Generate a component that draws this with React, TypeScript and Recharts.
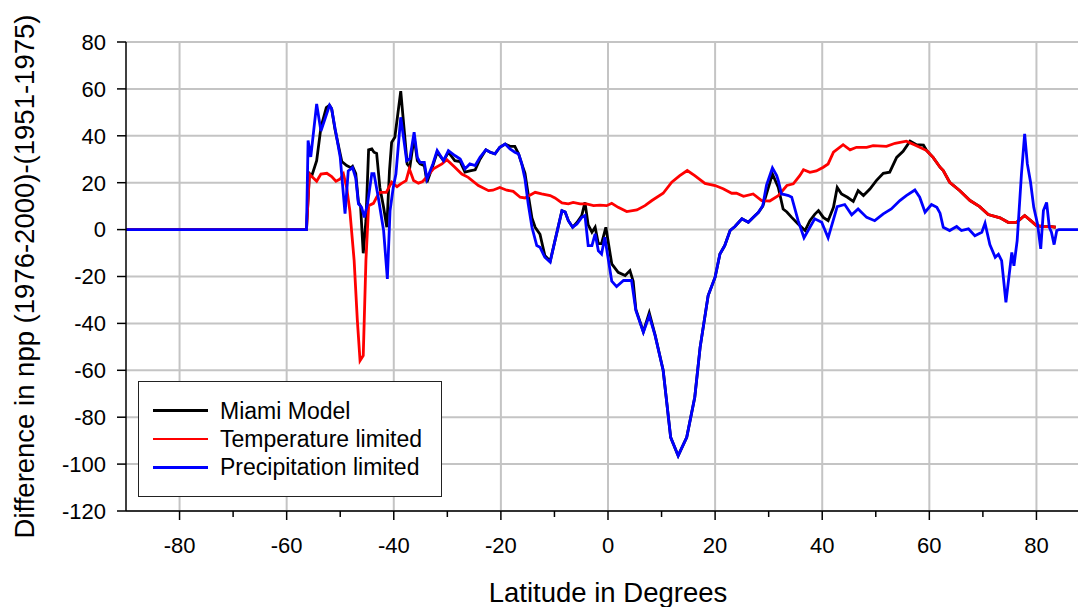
import React from "react";
import { LineChart, Line, XAxis, YAxis, CartesianGrid, Legend } from "recharts";

// [latitude, difference in npp]
const miamiModel: [number, number][] = [
  [-90, 0], [-56.3, 0], [-55.75, 24], [-55.3, 23], [-54.4, 29.4], [-53.6, 43.6], [-52.6, 52], [-52.0, 53],
  [-51.6, 51.5], [-51.0, 43], [-49.7, 29], [-48.8, 27.3], [-48.0, 26.4], [-47.7, 27], [-47.1, 23.9], [-46.6, 11.6],
  [-46.2, 10], [-45.7, -10.1], [-45.2, 3.8], [-44.7, 34], [-44.1, 34.4], [-43.7, 33], [-43.2, 32.5], [-42.6, 18],
  [-41.9, 9.5], [-41.3, 1], [-40.8, 25.2], [-40.4, 37.2], [-39.8, 39.4], [-38.7, 59], [-38.1, 43.6], [-37.5, 28],
  [-37.0, 26.6], [-36.2, 39.4], [-35.6, 29.4], [-35.1, 28], [-34.3, 27.3], [-33.8, 20.2], [-32.7, 27.3], [-31.9, 33],
  [-30.7, 29.4], [-29.8, 33], [-28.6, 29.4], [-27.6, 29], [-26.7, 24.5], [-25.8, 25], [-24.8, 25.5], [-23.9, 30],
  [-22.8, 34], [-22.0, 33], [-21.1, 32.3], [-20.2, 35.1], [-19.2, 36.5], [-18.3, 35.5], [-17.4, 35.5], [-16.7, 32.3],
  [-16.1, 28], [-15.5, 24], [-14.9, 15], [-14.2, 5], [-13.6, 1], [-12.7, -2], [-11.8, -11], [-10.8, -13.5],
  [-9.9, -4.7], [-8.6, 8.1], [-8.0, 7.5], [-7.4, 3.8], [-6.6, 1], [-5.8, 3], [-4.9, 6], [-4.3, 11.6],
  [-3.7, 2], [-3.0, -1.1], [-2.4, 1], [-1.8, -6], [-1.2, -6], [-0.4, 1], [0.7, -14.6], [1.9, -18.2],
  [3.2, -19.6], [4.1, -17.5], [4.7, -22], [5.2, -34], [6.6, -43.5], [7.7, -35.5], [8.8, -45], [10.3, -60],
  [11.7, -88.6], [13.1, -96.4], [14.7, -88.6], [16.2, -71.5], [17.2, -50.2], [18.7, -28.1], [20.0, -20.3], [20.9, -10.4],
  [21.8, -6.8], [22.8, -0.4], [23.7, 1.3], [25.0, 4.6], [26.2, 3.1], [27.1, 5.2], [28.1, 7.4], [28.9, 10],
  [29.6, 15.2], [30.7, 23.7], [31.8, 18], [32.7, 8.8], [33.4, 7.5], [34.3, 5.2], [35.5, 2.4], [36.8, -0.4],
  [37.7, 3.8], [38.6, 6.5], [39.3, 8.1], [40.2, 5.2], [41.1, 3.8], [42.1, 9.5], [42.8, 18], [43.6, 15.2],
  [44.7, 13.8], [45.8, 12], [46.7, 16.6], [47.7, 14.5], [48.9, 17.3], [50.1, 20.9], [51.4, 24], [52.6, 24.5],
  [53.9, 30.8], [55.1, 33.4], [56.4, 37.7], [57.6, 36.2], [58.9, 36], [59.5, 33.7], [60.7, 30.8], [62.0, 26.6],
  [62.6, 25.2], [63.8, 20.2], [65.7, 16.6], [67.6, 12.4], [69.4, 9.8], [71.0, 6.4], [73.2, 5], [74.7, 3.1],
  [76.3, 3.1], [77.8, 6], [79.1, 3.5], [80.0, 1.7], [81.3, 1.3], [82.8, 1.3], [83.6, 1],
];

const temperatureLimited: [number, number][] = [
  [-90, 0], [-56.3, 0], [-55.75, 23.7], [-55.3, 22.6], [-54.4, 20.6], [-53.6, 23.7], [-52.5, 24], [-51.6, 22.6],
  [-50.8, 20.6], [-50.0, 21.6], [-49.4, 23.7], [-48.8, 18], [-48.2, 8], [-47.4, -13.2], [-46.8, -38.8], [-46.3, -55.9],
  [-45.7, -53.7], [-45.2, -13.2], [-44.7, 10.2], [-43.8, 11.2], [-43.2, 13.8], [-42.6, 15.9], [-41.4, 15.9], [-40.4, 20.2],
  [-39.4, 18.3], [-38.7, 19.5], [-37.7, 20.9], [-37.1, 25.9], [-36.3, 20.9], [-35.4, 19.8], [-34.6, 20.5], [-33.8, 22.6],
  [-32.6, 25.9], [-31.0, 28], [-30.1, 29.8], [-28.6, 26.6], [-27.3, 23.7], [-26.1, 22.3], [-24.2, 18.8], [-22.3, 16.6],
  [-21.5, 16.8], [-20.2, 18], [-18.9, 16.8], [-17.7, 16.3], [-16.4, 13.8], [-15.5, 13.5], [-13.6, 15.9], [-12.4, 15.2],
  [-10.8, 14.5], [-9.9, 13.5], [-8.6, 11.4], [-7.4, 11], [-6.5, 11.6], [-5.2, 11], [-4.0, 11], [-2.7, 10.2],
  [-1.5, 10.4], [-0.25, 10.2], [0.7, 11.2], [1.9, 9.5], [3.5, 7.7], [5.4, 8.4], [6.9, 10.2], [8.2, 12.4],
  [10.3, 15.5], [11.9, 20.2], [13.4, 23], [14.8, 25.2], [16.2, 23], [18.1, 19.7], [20.0, 18.8], [21.5, 17.4],
  [23.1, 15.5], [24.0, 15.5], [25.3, 14.2], [27.1, 15.2], [28.7, 12.4], [30.2, 12.2], [31.8, 14.5], [33.4, 18.8],
  [34.6, 19.5], [35.8, 23], [36.5, 25.5], [37.7, 24.4], [38.9, 25], [40.2, 26.6], [41.1, 28], [42.1, 33],
  [43.9, 36.2], [45.2, 34], [46.4, 35.1], [48.3, 35.1], [49.5, 35.8], [52.0, 35.5], [53.6, 36.8], [55.7, 37.7],
  [57.6, 35.8], [59.5, 33.7], [60.7, 30.8], [62.0, 26.6], [62.6, 25.2], [63.8, 20.2], [65.7, 16.6], [67.6, 12.4],
  [69.4, 9.8], [71.0, 6.4], [73.2, 5], [74.7, 3.1], [76.3, 3.1], [77.8, 6], [79.1, 3.5], [80.0, 1.7],
  [81.3, 1.3], [82.8, 1.3], [83.6, 1],
];

const precipitationLimited: [number, number][] = [
  [-90, 0], [-56.3, 0], [-56.0, 38], [-55.5, 31], [-54.4, 53.6], [-53.6, 42], [-52.0, 53], [-51.6, 51.5],
  [-51.0, 43.6], [-50.0, 30.8], [-49.1, 6.8], [-48.5, 25], [-47.7, 26.4], [-47.1, 22], [-46.6, 11], [-46.0, 9.5],
  [-45.5, 5.2], [-44.9, 11], [-44.1, 23.9], [-43.7, 23.9], [-42.9, 13.8], [-41.9, -0.4], [-41.2, -21], [-40.7, 8],
  [-40.1, 18], [-39.6, 23.7], [-38.7, 47.9], [-38.1, 38], [-37.6, 29.4], [-37.0, 30.2], [-36.2, 41.5], [-35.6, 30.8],
  [-35.1, 28.7], [-34.3, 28.7], [-33.8, 21.6], [-32.7, 28], [-31.9, 33.7], [-30.7, 29.4], [-29.8, 33.7], [-28.6, 31.6],
  [-27.6, 30.1], [-26.7, 25.9], [-25.8, 28], [-24.8, 27.3], [-23.9, 30.8], [-22.8, 34], [-22.0, 33], [-21.1, 32.3],
  [-20.2, 35.1], [-19.2, 36.5], [-18.3, 34.4], [-17.4, 33], [-16.7, 32.3], [-16.1, 28], [-15.5, 21.6], [-14.9, 11],
  [-14.2, 1], [-13.3, -6.8], [-12.7, -7.5], [-11.8, -11.8], [-10.8, -13.9], [-9.9, -4.7], [-8.6, 8.1], [-8.0, 7.5],
  [-7.4, 3.8], [-6.6, 1], [-5.8, 2.4], [-4.9, 5.2], [-4.3, 6], [-3.7, -6.8], [-3.0, -6.8], [-2.4, -1.8],
  [-1.8, -9], [-1.2, -10.4], [-0.6, -3.3], [-0.2, -9], [0.7, -22], [1.6, -24.3], [2.9, -21.7], [4.4, -21.7],
  [5.2, -34.5], [6.6, -43.8], [7.7, -36.7], [8.8, -45.2], [10.3, -60.1], [11.7, -88.6], [13.1, -96.4], [14.7, -88.6],
  [16.2, -71.5], [17.2, -50.2], [18.7, -28.1], [20.0, -20.3], [20.9, -10.4], [21.8, -6.8], [22.8, -0.4], [23.7, 1.3],
  [25.0, 4.6], [26.2, 3.1], [27.1, 5.2], [28.1, 7.4], [28.9, 10.2], [29.6, 19], [30.7, 26.3], [31.5, 23],
  [31.8, 20.9], [32.4, 15.2], [33.0, 14.9], [33.7, 14.5], [34.3, 13.8], [35.5, 3.8], [36.6, -3.5], [37.7, 1],
  [38.6, 4.6], [39.9, 3.1], [41.1, -3.5], [42.8, 9.8], [44.2, 10.7], [45.5, 6.3], [46.7, 8.8], [48.3, 5.2],
  [49.8, 3.8], [51.4, 6.7], [52.9, 8.8], [54.5, 12.4], [55.7, 14.5], [57.3, 16.9], [58.2, 13.8], [59.2, 7.4],
  [60.4, 10.7], [61.4, 9.5], [62.0, 7], [62.6, 1], [63.8, -0.4], [65.1, 1.3], [66.0, -0.4], [67.3, 0.3],
  [68.5, -2.6], [69.8, -1.1], [70.4, 2.7], [71.3, -6.4], [72.3, -11.8], [72.9, -10.5], [73.5, -13.2], [74.3, -31],
  [75.4, -9.7], [75.8, -15.4], [76.4, -4.7], [77.2, 23.7], [77.8, 40.8], [78.3, 28], [78.9, 20.2], [79.5, 9.5],
  [80.2, 2.4], [80.8, -8.2], [81.3, 8.1], [81.9, 11.6], [82.4, 1], [82.8, -1.1], [83.3, -6.4], [83.8, -0.4],
  [84.2, 0], [90, 0],
];

const xTicks = [-80, -70, -60, -50, -40, -30, -20, -10, 0, 10, 20, 30, 40, 50, 60, 70, 80];
const xGrid = [-80, -60, -40, -20, 0, 20, 40, 60, 80];
const yTicks = [-120, -100, -80, -60, -40, -20, 0, 20, 40, 60, 80];

const series = [
  { name: "Miami Model", color: "#000000", values: miamiModel },
  { name: "Temperature limited", color: "#ff0000", values: temperatureLimited },
  { name: "Precipitation limited", color: "#0000ff", values: precipitationLimited },
];

const FONT = "'Liberation Sans', Arial, Helvetica, sans-serif";
const TICK_SIZE = 9;
const TICK_MARGIN = 17;

const toRows = (pts: [number, number][]) => pts.map(([x, y]) => ({ x, y }));

const XTick = (props: any) => {
  const { x, y, payload } = props;
  const v = payload.value;
  const major = v % 20 === 0;
  const axisY = y - TICK_SIZE - TICK_MARGIN;
  return (
    <g>
      <line x1={x} x2={x} y1={axisY} y2={axisY + (major ? 9 : 6)} stroke="#000" strokeWidth={1.5} />
      {major && (
        <text x={x} y={y} dy="0.71em" textAnchor="middle" fontSize={22} fill="#000" fontFamily={FONT}>
          {v}
        </text>
      )}
    </g>
  );
};

const XTitle = (props: any) => {
  const vb = props.viewBox || {};
  const cx = (vb.x || 0) + (vb.width || 0) / 2;
  return (
    <text x={cx} y={602} textAnchor="middle" fontSize={27.5} fill="#000" fontFamily={FONT}>
      Latitude in Degrees
    </text>
  );
};

const YTitle = (props: any) => {
  const vb = props.viewBox || {};
  const cy = (vb.y || 0) + (vb.height || 0) / 2;
  const tx = 34;
  return (
    <text
      x={tx}
      y={cy}
      transform={`rotate(-90, ${tx}, ${cy})`}
      textAnchor="middle"
      fontSize={27.5}
      fill="#000"
      fontFamily={FONT}
    >
      Difference in npp (1976-2000)-(1951-1975)
    </text>
  );
};

const LegendBox = () => (
  <div
    style={{
      boxSizing: "border-box",
      width: 304,
      height: 116,
      border: "1.5px solid #222",
      background: "#fff",
      position: "relative",
      fontFamily: FONT,
    }}
  >
    {series.map((s, i) => (
      <div
        key={s.name}
        style={{ position: "absolute", left: 0, top: 28.7 + i * 28.3 - 14, height: 28, width: "100%" }}
      >
        <div
          style={{
            position: "absolute",
            left: 14,
            top: 12.7,
            width: 55,
            height: 2.6,
            background: s.color,
          }}
        />
        <div
          style={{
            position: "absolute",
            left: 81,
            top: 0,
            lineHeight: "28px",
            fontSize: 23,
            color: "#000",
            whiteSpace: "nowrap",
          }}
        >
          {s.name}
        </div>
      </div>
    ))}
  </div>
);

export default function App() {
  return (
    <div
      style={{
        position: "absolute",
        left: 0,
        top: 0,
        width: 1078,
        height: 607,
        overflow: "hidden",
        background: "#fff",
        fontFamily: FONT,
      }}
    >
      <LineChart width={1100} height={607} margin={{ top: 42, right: 10, bottom: 0, left: 0 }}>
        <CartesianGrid stroke="#c4c4c4" strokeWidth={2} verticalValues={xGrid} horizontalValues={yTicks} />
        <XAxis
          dataKey="x"
          type="number"
          domain={[-90, 90]}
          ticks={xTicks}
          interval={0}
          height={96}
          tickSize={TICK_SIZE}
          tickMargin={TICK_MARGIN}
          tickLine={false}
          tick={<XTick />}
          axisLine={{ stroke: "#000", strokeWidth: 1.5 }}
          allowDataOverflow
          label={{ content: <XTitle /> }}
        />
        <YAxis
          type="number"
          domain={[-120, 80]}
          ticks={yTicks}
          interval={0}
          width={126}
          tickSize={TICK_SIZE}
          tickMargin={11}
          tick={{ fontSize: 22, fill: "#000", fontFamily: FONT }}
          tickLine={{ stroke: "#000", strokeWidth: 1.5 }}
          axisLine={{ stroke: "#000", strokeWidth: 1.5 }}
          allowDataOverflow
          label={{ content: <YTitle /> }}
        />
        {series.map((s) => (
          <Line
            key={s.name}
            name={s.name}
            data={toRows(s.values)}
            dataKey="y"
            type="linear"
            stroke={s.color}
            strokeWidth={2.8}
            dot={false}
            activeDot={false}
            isAnimationActive={false}
          />
        ))}
        <Legend
          layout="vertical"
          align="center"
          verticalAlign="middle"
          wrapperStyle={{ left: 138, top: 381, width: 304, height: 116 }}
          content={<LegendBox />}
        />
      </LineChart>
    </div>
  );
}
